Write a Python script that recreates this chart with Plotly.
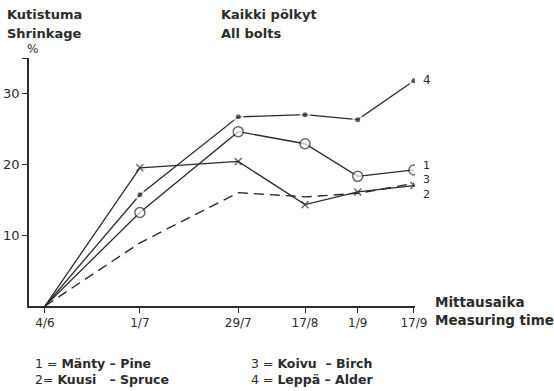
import plotly.graph_objects as go

# Measuring dates (day/month) and days elapsed since the first measurement on 4/6
date_labels = ["4/6", "1/7", "29/7", "17/8", "1/9", "17/9"]
days = [0, 27, 55, 74, 89, 105]

# Shrinkage, % (all bolts)
pine = [0, 13.2, 24.6, 22.9, 18.3, 19.2]      # 1 = Mänty - Pine
spruce = [0, 8.9, 16.0, 15.4, 15.9, 17.3]     # 2 = Kuusi - Spruce
birch = [0, 19.5, 20.4, 14.3, 16.1, 17.0]     # 3 = Koivu - Birch
alder = [0, 15.7, 26.7, 27.0, 26.3, 31.8]     # 4 = Leppä - Alder

y_ticks = [10, 20, 30]

INK = "#2b2b2b"
FONT = "DejaVu Sans"

fig = go.Figure()

# no marker at the common origin
msize = lambda s: [0] + [s] * (len(days) - 1)

fig.add_trace(go.Scatter(
    x=days, y=spruce, name="2", mode="lines",
    line=dict(color=INK, width=1.4, dash="10px,6px"),
))
fig.add_trace(go.Scatter(
    x=days, y=birch, name="3", mode="lines+markers",
    line=dict(color=INK, width=1.3),
    marker=dict(symbol="x-thin", size=msize(7), line=dict(color=INK, width=1.5)),
))
fig.add_trace(go.Scatter(
    x=days, y=alder, name="4", mode="lines+markers",
    line=dict(color=INK, width=1.3),
    marker=dict(symbol="circle", size=msize(8), color=INK,
                line=dict(color="white", width=3)),
))
fig.add_trace(go.Scatter(
    x=days, y=pine, name="1", mode="lines+markers",
    line=dict(color=INK, width=1.3),
    marker=dict(symbol="circle", size=msize(10), color="white",
                line=dict(color=INK, width=1.5)),
))

ann = []

def text(x, y, s, size=13, xanchor="left", **kw):
    ann.append(dict(x=x, y=y, xref="paper", yref="paper", text=s, showarrow=False,
                    xanchor=xanchor, yanchor="middle",
                    font=dict(family=FONT, size=size, color=INK), **kw))

text(-0.062, 1.177, "<b>Kutistuma</b>")
text(-0.062, 1.100, "<b>Shrinkage</b>")
text(0.492, 1.177, "<b>Kaikki pölkyt</b>")
text(0.492, 1.100, "<b>All bolts</b>")
text(1.047, 0.018, "<b>Mittausaika</b>", size=13.5)
text(1.047, -0.058, "<b>Measuring time</b>", size=13.5)
text(0.008, 1.035, "%", size=12, xanchor="center")

text(0.010, -0.230, "1 = <b>Mänty – Pine</b>", size=12.5)
text(0.010, -0.298, "2= <b>Kuusi   – Spruce</b>", size=12.5)
text(0.570, -0.230, "3 = <b>Koivu  – Birch</b>", size=12.5)
text(0.570, -0.298, "4 = <b>Leppä – Alder</b>", size=12.5)

# series numbers at the line ends
ann.append(dict(x=days[-1], y=alder[-1], xref="x", yref="y", text="4",
                showarrow=False, xanchor="left", yanchor="middle",
                xshift=7, yshift=1, font=dict(family=FONT, size=12, color=INK)))
# the three lower lines end close together: one stacked label
ann.append(dict(x=days[-1], y=birch[-1], xref="x", yref="y", text="1<br>3<br>2",
                showarrow=False, xanchor="left", yanchor="middle", align="left",
                xshift=7, yshift=6, font=dict(family=FONT, size=11, color=INK)))

fig.update_layout(
    width=554, height=391,
    margin=dict(l=29, r=139, t=58, b=85),
    paper_bgcolor="white", plot_bgcolor="white",
    showlegend=False,
    annotations=ann,
    xaxis=dict(
        range=[-4.55, 105.3], showgrid=False, zeroline=False, automargin=False,
        showline=True, linecolor=INK, linewidth=1.5,
        tickmode="array", tickvals=days, ticktext=date_labels,
        ticks="outside", ticklen=5, tickwidth=1.3, tickcolor=INK,
        tickfont=dict(family=FONT, size=12, color=INK),
    ),
    yaxis=dict(
        range=[0, 35], showgrid=False, zeroline=False, automargin=False,
        showline=True, linecolor=INK, linewidth=1.5,
        tickmode="array", tickvals=y_ticks + [35], ticktext=[str(v) for v in y_ticks] + [""],
        ticks="outside", ticklen=5, tickwidth=1.3, tickcolor=INK,
        tickfont=dict(family=FONT, size=13, color=INK),
    ),
)

fig.write_html("out.html")
